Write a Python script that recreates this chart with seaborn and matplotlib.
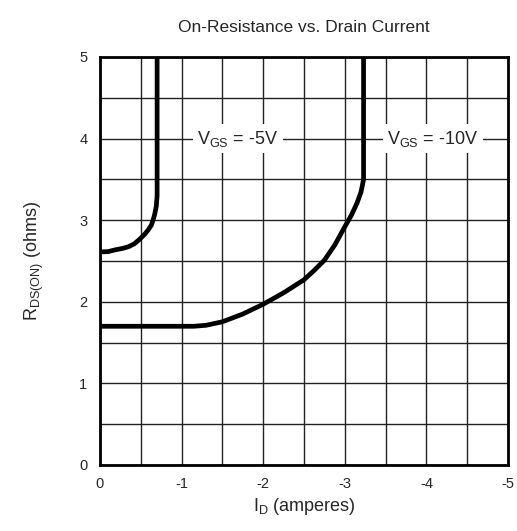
import numpy as np
import pandas as pd
import matplotlib
matplotlib.use("Agg")
import matplotlib.pyplot as plt
import seaborn as sns

# curve: V_GS = -5V
id_5v = [0.0, -0.1, -0.18, -0.28, -0.35, -0.42, -0.49, -0.55, -0.59, -0.63, -0.65, -0.67, -0.69, -0.70, -0.70]
r_5v = [2.61, 2.615, 2.635, 2.655, 2.675, 2.71, 2.77, 2.83, 2.88, 2.94, 3.0, 3.07, 3.17, 3.3, 5.0]

# V_GS = -10V
id_10v = [0.0, -0.6, -1.15, -1.3, -1.5, -1.75, -2.0, -2.25, -2.5, -2.62, -2.75, -2.88, -3.0, -3.08, -3.15, -3.2, -3.23, -3.23]
r_10v = [1.7, 1.7, 1.7, 1.712, 1.755, 1.85, 1.97, 2.11, 2.27, 2.38, 2.51, 2.7, 2.92, 3.06, 3.21, 3.35, 3.5, 5.0]

curve_labels = ["V$_{\\mathregular{GS}}$ = -5V", "V$_{\\mathregular{GS}}$ = -10V"]
label_x = [-1.69, -4.08]
label_y = [4.0, 4.0]

x_ticks = [0, -1, -2, -3, -4, -5]
y_ticks = [0, 1, 2, 3, 4, 5]

df = pd.concat([
    pd.DataFrame({"id": id_5v, "r": r_5v, "vgs": "-5V"}),
    pd.DataFrame({"id": id_10v, "r": r_10v, "vgs": "-10V"}),
])

sns.set_style("white")
plt.rcParams["font.family"] = ["Liberation Sans", "DejaVu Sans"]
plt.rcParams["lines.solid_joinstyle"] = "round"

fig = plt.figure(figsize=(5.17, 5.31), dpi=100)
ax = fig.add_axes([0.1934, 0.1243, 0.7892, 0.7684])

sns.lineplot(data=df, x="id", y="r", units="vgs", estimator=None, sort=False,
             color="black", linewidth=3.4, ax=ax, zorder=3)

ax.set_xlim(0, -5)
ax.set_ylim(0, 5)
ax.set_xticks(np.arange(0, -5.01, -0.5), minor=True)
ax.set_yticks(np.arange(0, 5.01, 0.5), minor=True)
ax.set_xticks(x_ticks)
ax.set_yticks(y_ticks)
ax.set_xticklabels([str(t) for t in x_ticks])
ax.set_yticklabels([str(t) for t in y_ticks])
ax.grid(True, which="both", color="#222222", linewidth=1.0)
ax.tick_params(which="both", length=0, labelsize=10.5, pad=9)

for sp in ax.spines.values():
    sp.set_visible(True)
    sp.set_color("black")
    sp.set_linewidth(2)

for lbl, lx, ly in zip(curve_labels, label_x, label_y):
    ax.text(lx, ly, lbl, ha="center", va="center", fontsize=13, zorder=4,
            bbox=dict(facecolor="white", edgecolor="none", pad=3))

ax.set_xlabel("I$_{\\mathregular{D}}$ (amperes)", fontsize=13, labelpad=3)
ax.set_ylabel("R$_{\\mathregular{DS(ON)}}$ (ohms)", fontsize=13, labelpad=24)
ax.set_title("On-Resistance vs. Drain Current", fontsize=12.5, pad=18)
if ax.get_legend() is not None:
    ax.get_legend().remove()

fig.savefig("out.png", dpi=100, facecolor="white")
